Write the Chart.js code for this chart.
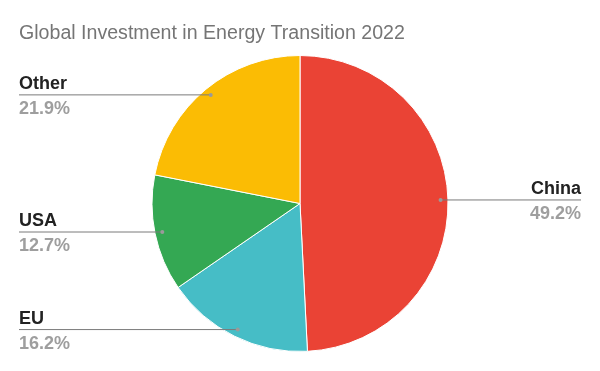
<!DOCTYPE html>
<html>
<head>
  <meta charset="UTF-8">
  <title>Global Investment in Energy Transition 2022</title>
  <script src="https://cdn.jsdelivr.net/npm/chart.js"></script>
  <style>
    html, body { margin: 0; padding: 0; background: #fff; }
    #wrap { width: 600px; height: 371px; position: relative; }
  </style>
</head>
<body>
<div id="wrap"><canvas id="pieChart"></canvas></div>
<script>
  const titleText = 'Global Investment in Energy Transition 2022';
  const regions = ['China', 'EU', 'USA', 'Other'];
  const shares = [49.2, 16.2, 12.7, 21.9];
  const colours = ['#EA4335', '#46BDC6', '#34A853', '#FBBC04'];

  // title + leader-line labels drawn after the pie
  const labelPlugin = {
    id: 'leaderLabels',
    afterDraw(chart) {
      const ctx = chart.ctx;
      ctx.save();
      ctx.fillStyle = '#757575';
      ctx.font = '19.6px "Liberation Sans", Arial, sans-serif';
      ctx.textAlign = 'left';
      ctx.textBaseline = 'alphabetic';
      ctx.fillText(titleText, 19, 39);

      const meta = chart.getDatasetMeta(0);
      meta.data.forEach((arc, i) => {
        const mid = (arc.startAngle + arc.endAngle) / 2;
        const r = arc.outerRadius * 0.95;
        const dx = arc.x + Math.cos(mid) * r;
        const dy = arc.y + Math.sin(mid) * r;
        const right = Math.cos(mid) > 0;
        const edge = right ? 581 : 19;

        ctx.strokeStyle = '#7a7a7a';
        ctx.lineWidth = 1;
        ctx.beginPath();
        ctx.moveTo(dx, dy);
        ctx.lineTo(edge, dy);
        ctx.stroke();
        ctx.fillStyle = '#9a9a9a';
        ctx.beginPath();
        ctx.arc(dx, dy, 2, 0, Math.PI * 2);
        ctx.fill();

        ctx.textAlign = right ? 'right' : 'left';
        ctx.font = 'bold 18px "Liberation Sans", Arial, sans-serif';
        ctx.fillStyle = '#222222';
        ctx.fillText(regions[i], edge, dy - 6);
        ctx.fillStyle = '#9e9e9e';
        ctx.fillText(shares[i].toFixed(1) + '%', edge, dy + 19);
      });
      ctx.restore();
    }
  };

  new Chart(document.getElementById('pieChart'), {
    type: 'pie',
    data: {
      labels: regions,
      datasets: [{
        data: shares,
        backgroundColor: colours,
        borderColor: '#ffffff',
        borderWidth: 1
      }]
    },
    options: {
      responsive: true,
      maintainAspectRatio: false,
      animation: false,
      layout: { padding: { top: 55, bottom: 19, left: 0, right: 0 } },
      plugins: {
        legend: { display: false },
        tooltip: { enabled: false }
      }
    },
    plugins: [labelPlugin]
  });
</script>
</body>
</html>
